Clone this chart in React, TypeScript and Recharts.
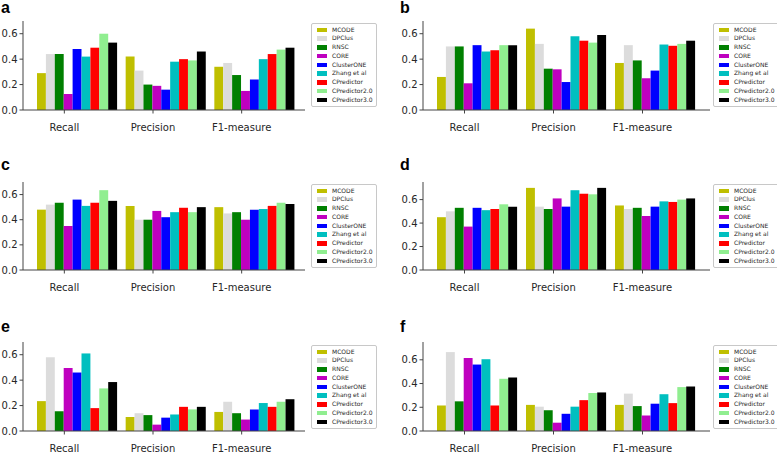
import { BarChart, Bar, XAxis, YAxis, Legend } from 'recharts'

const metrics = ['Recall', 'Precision', 'F1-measure']
const methods = [
  'MCODE',
  'DPClus',
  'RNSC',
  'CORE',
  'ClusterONE',
  'Zhang et al',
  'CPredictor',
  'CPredictor2.0',
  'CPredictor3.0',
]
const colors = ['#bfbf00', '#dcdcdc', '#008000', '#bf00bf', '#0000ff', '#00bfbf', '#ff0000', '#90ee90', '#000000']
const yTicks = [0, 0.2, 0.4, 0.6]

// one row per method: [Recall, Precision, F1-measure]
const panelA = [
  [0.29, 0.42, 0.34],
  [0.44, 0.31, 0.37],
  [0.44, 0.2, 0.275],
  [0.125, 0.19, 0.15],
  [0.48, 0.16, 0.24],
  [0.42, 0.38, 0.4],
  [0.49, 0.4, 0.44],
  [0.6, 0.39, 0.475],
  [0.53, 0.46, 0.49],
]
const panelB = [
  [0.26, 0.64, 0.37],
  [0.5, 0.52, 0.51],
  [0.5, 0.325, 0.39],
  [0.21, 0.32, 0.25],
  [0.51, 0.22, 0.31],
  [0.46, 0.58, 0.515],
  [0.47, 0.545, 0.505],
  [0.51, 0.53, 0.52],
  [0.51, 0.59, 0.545],
]
const panelC = [
  [0.48, 0.51, 0.5],
  [0.52, 0.4, 0.45],
  [0.535, 0.4, 0.46],
  [0.35, 0.47, 0.4],
  [0.56, 0.42, 0.48],
  [0.51, 0.46, 0.485],
  [0.535, 0.495, 0.51],
  [0.635, 0.46, 0.535],
  [0.55, 0.5, 0.525],
]
const panelD = [
  [0.45, 0.7, 0.55],
  [0.5, 0.54, 0.52],
  [0.53, 0.52, 0.53],
  [0.37, 0.61, 0.46],
  [0.53, 0.54, 0.54],
  [0.51, 0.68, 0.585],
  [0.52, 0.65, 0.58],
  [0.56, 0.645, 0.6],
  [0.54, 0.7, 0.61],
]
const panelE = [
  [0.235, 0.11, 0.15],
  [0.58, 0.14, 0.23],
  [0.155, 0.125, 0.14],
  [0.495, 0.05, 0.09],
  [0.46, 0.105, 0.17],
  [0.61, 0.13, 0.22],
  [0.18, 0.19, 0.19],
  [0.335, 0.17, 0.23],
  [0.385, 0.19, 0.25],
]
const panelF = [
  [0.215, 0.22, 0.22],
  [0.665, 0.205, 0.315],
  [0.25, 0.175, 0.21],
  [0.615, 0.07, 0.13],
  [0.56, 0.145, 0.23],
  [0.605, 0.205, 0.31],
  [0.215, 0.26, 0.235],
  [0.44, 0.32, 0.37],
  [0.45, 0.325, 0.375],
]

const font = '"DejaVu Sans", sans-serif'
const axisColor = '#444'

const toRows = (values: number[][]) =>
  metrics.map((metric, i) => {
    const row: Record<string, string | number> = { metric }
    values.forEach((v, j) => {
      row['m' + j] = v[i]
    })
    return row
  })

const MetricTick = (props: any) => {
  const { x, y, payload } = props
  const tx = x - 13
  return (
    <g>
      <line x1={tx} x2={tx} y1={y} y2={y + 3.5} stroke={axisColor} />
      <text x={tx} y={y + 20.5} textAnchor="middle" fontSize={10} fill="#262626" fontFamily={font}>
        {payload.value}
      </text>
    </g>
  )
}

// keep the legend in series order (recharts sorts it by name otherwise)
const LegendBox = ({ payload }: any) => {
  const items = [...(payload || [])].sort((a: any, b: any) => methods.indexOf(a.value) - methods.indexOf(b.value))
  return (
    <div
      style={{
        border: '1px solid #c8c8c8',
        borderRadius: 2,
        background: '#fff',
        padding: '1.5px 3px 2px 5px',
        fontFamily: font,
        fontSize: 6,
        lineHeight: '8.75px',
        color: '#262626',
        textAlign: 'left',
      }}
    >
      {items.map((entry: any) => (
        <div key={entry.value} style={{ display: 'flex', alignItems: 'center', whiteSpace: 'nowrap' }}>
          <span style={{ display: 'inline-block', width: 10, height: 4.5, background: entry.color, marginRight: 5 }} />
          {entry.value}
        </div>
      ))}
    </div>
  )
}

interface PanelProps {
  label: string
  values: number[][]
  left: number
  top: number
  width: number
  height: number
  yMax: number
  margin: { top: number; right: number; bottom: number; left: number }
  yWidth: number
  xHeight: number
  pad: { left: number; right: number }
  legendPos: { left: number; top: number }
  labelPos: { left: number; top: number }
}

const Panel = (p: PanelProps) => (
  <>
    <div
      style={{
        position: 'absolute',
        left: p.labelPos.left,
        top: p.labelPos.top,
        fontFamily: '"Liberation Sans", Arial, sans-serif',
        fontWeight: 'bold',
        fontSize: 16,
        lineHeight: '16px',
        color: '#000',
      }}
    >
      {p.label}
    </div>
    <div style={{ position: 'absolute', left: p.left, top: p.top }}>
      <BarChart
        width={p.width}
        height={p.height}
        data={toRows(p.values)}
        margin={p.margin}
        barGap={0}
        barSize={8.9}
      >
        <XAxis
          dataKey="metric"
          axisLine={{ stroke: axisColor }}
          tickLine={false}
          tickSize={0}
          tickMargin={0}
          tick={<MetricTick />}
          padding={p.pad}
          height={p.xHeight}
          interval={0}
        />
        <YAxis
          domain={[0, p.yMax]}
          ticks={yTicks}
          width={p.yWidth}
          axisLine={{ stroke: axisColor }}
          tickLine={{ stroke: axisColor }}
          tickSize={3.5}
          tickMargin={2}
          tick={{ fontSize: 10, fill: '#262626', fontFamily: font }}
          tickFormatter={(v: number) => v.toFixed(1)}
          allowDataOverflow
        />
        <Legend
          layout="vertical"
          align="center"
          verticalAlign="middle"
          content={<LegendBox />}
          wrapperStyle={{ left: p.legendPos.left, top: p.legendPos.top, width: 'auto', height: 'auto' }}
        />
        {methods.map((name, j) => (
          <Bar key={name} dataKey={'m' + j} name={name} fill={colors[j]} isAnimationActive={false} />
        ))}
      </BarChart>
    </div>
  </>
)

const leftCol = { left: 0, width: 388, yWidth: 23, right: 83, pad: { left: 10, right: 6 }, legendLeft: 311 }
const rightCol = { left: 388, width: 389, yWidth: 35, right: 67, pad: { left: 10, right: 10 }, legendLeft: 325 }

const rows = [
  { top: 0, height: 150, mTop: 21, mBottom: 10, xHeight: 30, legendTop: 23, labelTop: -0.5 },
  { top: 150, height: 150, mTop: 32, mBottom: 6, xHeight: 24, legendTop: 34, labelTop: 156.5 },
  { top: 300, height: 152, mTop: 42, mBottom: 0, xHeight: 21, legendTop: 45, labelTop: 318.5 },
]

const panels = [
  { label: 'a', values: panelA, col: leftCol, row: rows[0], yMax: 0.7 },
  { label: 'b', values: panelB, col: rightCol, row: rows[0], yMax: 0.7 },
  { label: 'c', values: panelC, col: leftCol, row: rows[1], yMax: 0.7 },
  { label: 'd', values: panelD, col: rightCol, row: rows[1], yMax: 0.75 },
  { label: 'e', values: panelE, col: leftCol, row: rows[2], yMax: 0.7 },
  { label: 'f', values: panelF, col: rightCol, row: rows[2], yMax: 0.75 },
]

export default function App() {
  return (
    <div style={{ position: 'absolute', left: 0, top: 0, width: 777, height: 452, background: '#fff', overflow: 'hidden' }}>
      {panels.map(({ label, values, col, row, yMax }) => (
        <Panel
          key={label}
          label={label}
          values={values}
          left={col.left}
          top={row.top}
          width={col.width}
          height={row.height}
          yMax={yMax}
          margin={{ top: row.mTop, right: col.right, bottom: row.mBottom, left: 0 }}
          yWidth={col.yWidth}
          xHeight={row.xHeight}
          pad={col.pad}
          legendPos={{ left: col.legendLeft, top: row.legendTop }}
          labelPos={{ left: col.left === 0 ? 1 : 400, top: row.labelTop }}
        />
      ))}
    </div>
  )
}
